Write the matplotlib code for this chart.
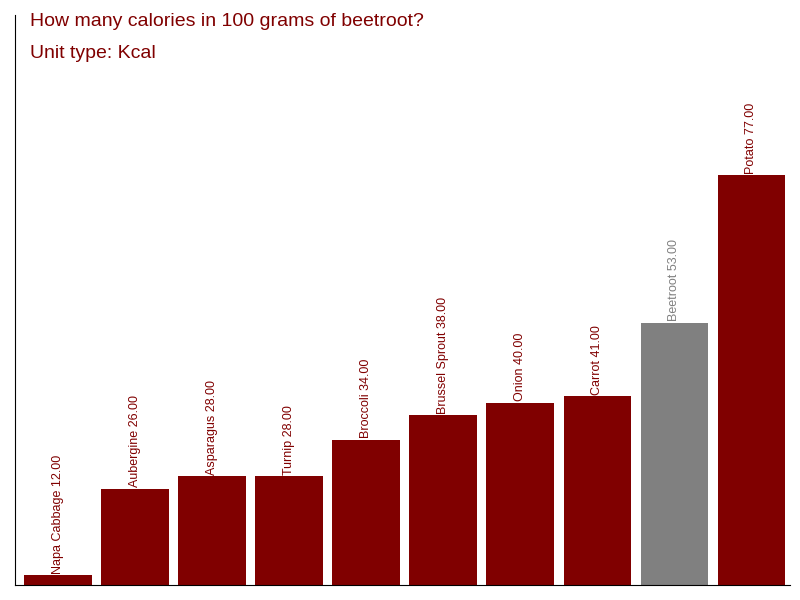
import matplotlib
matplotlib.use("Agg")
import matplotlib.pyplot as plt

plt.rcParams['font.family'] = ['Liberation Sans', 'DejaVu Sans']

categories = ["Napa Cabbage", "Aubergine", "Asparagus", "Turnip", "Broccoli",
              "Brussel Sprout", "Onion", "Carrot", "Beetroot", "Potato"]
values = [12, 26, 28, 28, 34, 38, 40, 41, 53, 77]
highlight = "Beetroot"

fig = plt.figure(figsize=(8, 6), dpi=100)
ax = fig.add_axes([15/800, 15/600, 775/800, 570/600])
colors = ["#808080" if c == highlight else "#800000" for c in categories]
x = list(range(len(categories)))
ybase = 10.35
ax.bar(x, [v - ybase for v in values], bottom=ybase, width=0.88, color=colors)
for i, (c, v) in enumerate(zip(categories, values)):
    ax.text(i, v + 0.2, f"{c} {v:.2f}", rotation=90, ha="center", va="bottom",
            fontsize=9, color=colors[i])
ax.set_xlim(-0.56, 9.5)
ax.set_ylim(ybase, 103.0)
ax.set_xticks([]); ax.set_yticks([])
for s in ["top", "right"]:
    ax.spines[s].set_visible(False)
fig.text(30/800, 1 - 22/600, "How many calories in 100 grams of beetroot?", fontsize=14,
         color="#800000", va="center")
fig.text(30/800, 1 - 53/600, "Unit type: Kcal", fontsize=14, color="#800000", va="center")
fig.savefig("out.png")
